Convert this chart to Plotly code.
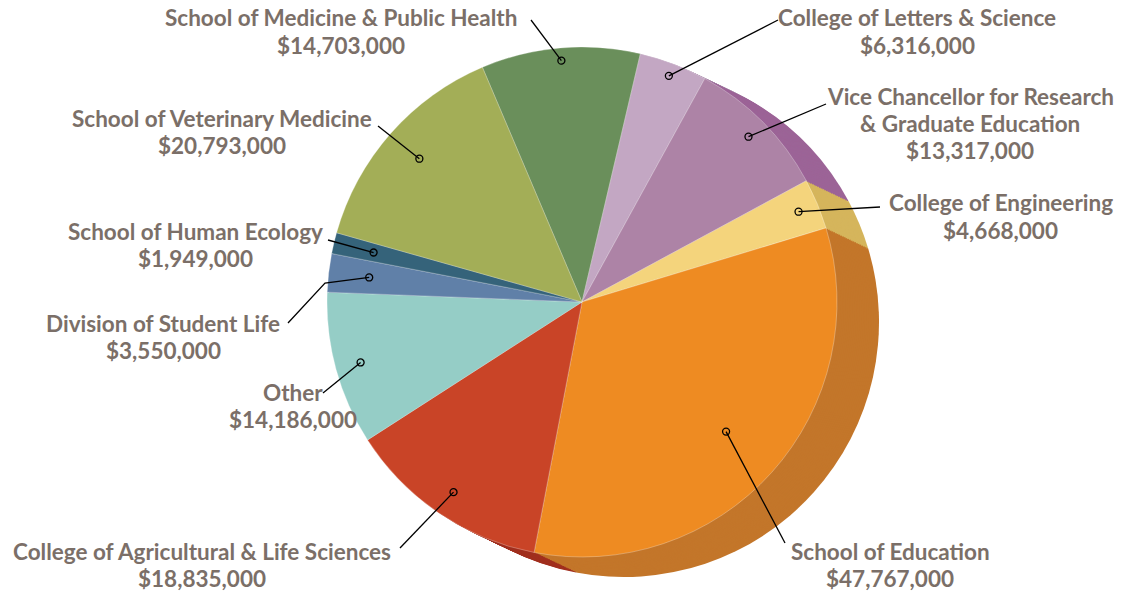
import math
import plotly.graph_objects as go

# ---------------- data ----------------
labels = [
    "School of Medicine & Public Health",
    "College of Letters & Science",
    "Vice Chancellor for Research & Graduate Education",
    "College of Engineering",
    "School of Education",
    "College of Agricultural & Life Sciences",
    "Other",
    "Division of Student Life",
    "School of Human Ecology",
    "School of Veterinary Medicine",
]
values = [14703000, 6316000, 13317000, 4668000, 47767000,
          18835000, 14186000, 3550000, 1949000, 20793000]
label_lines = [
    ["School of Medicine &amp; Public Health"],
    ["College of Letters &amp; Science"],
    ["Vice Chancellor for Research", "&amp; Graduate Education"],
    ["College of Engineering"],
    ["School of Education"],
    ["College of Agricultural &amp; Life Sciences"],
    ["Other"],
    ["Division of Student Life"],
    ["School of Human Ecology"],
    ["School of Veterinary Medicine"],
]

# ---------------- style ----------------
face_colors = ["#6a8f5b", "#c3a7c3", "#ad83a6", "#f4d47c", "#ee8b22",
               "#c94427", "#95cdc6", "#6080a8", "#35637a", "#a3ae57"]
side_colors = ["#577a49", "#a98aaa", "#9c6497", "#d5b55c", "#c3762a",
               "#a1301f", "#79b2aa", "#4d6a8e", "#28505f", "#8a9444"]
TEXT_COLOR = "#7b6f68"
FONT = "Lato"
FONT_SIZE = 22.5
LINE_GAP = 27

W, H = 1135, 591
CX, CY, R = 582, 302, 255          # face centre / radius in px
DX, DY = 42, 20                     # extrusion offset in px
NLAYERS = 24
ROTATION = -23

# first-line centre of each label block and leader-line start points (px)
text_pos = [(341, 18), (917, 18), (970, 96), (1001, 203), (890, 551),
            (202, 551), (293, 392), (163, 323), (195, 232), (222, 118)]
leader_start = [[(531, 20)], [(778, 20)], [(826, 104)], [(880, 207)], [(785, 543)],
                [(400, 548)], [(323, 393)], [(288, 323), (325, 283)], [(328, 240)],
                [(378, 126)]]
tip_frac = [0.95, 0.95, 0.92, 0.92, 0.76, 0.90, 0.90, 0.84, 0.84, 0.85]


def domain(cx, cy, r):
    return dict(x=[(cx - r) / W, (cx + r) / W],
                y=[1 - (cy + r) / H, 1 - (cy - r) / H])


def px(x):
    return x / W


def py(y):
    return 1 - y / H


fig = go.Figure()

# extrusion (side wall) layers, farthest first
for i in range(NLAYERS, 0, -1):
    t = i / NLAYERS
    fig.add_trace(go.Pie(
        labels=labels, values=values, sort=False, direction="clockwise",
        rotation=ROTATION, textinfo="none", textposition="none",
        hoverinfo="skip", showlegend=False,
        marker=dict(colors=side_colors, line=dict(width=0)),
        domain=domain(CX + DX * t, CY + DY * t, R),
    ))

# face
fig.add_trace(go.Pie(
    labels=labels, values=values, sort=False, direction="clockwise",
    rotation=ROTATION, textinfo="none", textposition="none",
    hovertemplate="%{label}<br>$%{value:,}<extra></extra>", showlegend=False,
    marker=dict(colors=face_colors, line=dict(width=0.8, color="rgba(255,255,255,0.35)")),
    domain=domain(CX, CY, R),
))

# leader lines + labels, tip positions derived from slice angles
total = sum(values)
cum = 0
shapes = []
annotations = []
for i, v in enumerate(values):
    mid = ROTATION + (cum + v / 2) / total * 360
    cum += v
    a = math.radians(mid)
    tx = CX + tip_frac[i] * R * math.sin(a)
    ty = CY - tip_frac[i] * R * math.cos(a)
    pts = leader_start[i] + [(tx, ty)]
    path = "M " + " L ".join(f"{px(x):.5f},{py(y):.5f}" for x, y in pts)
    shapes.append(dict(type="path", path=path, xref="paper", yref="paper",
                       line=dict(color="black", width=1.3), layer="above"))
    shapes.append(dict(type="circle", xref="paper", yref="paper",
                       xsizemode="pixel", ysizemode="pixel",
                       xanchor=px(tx), yanchor=py(ty),
                       x0=-3.5, x1=3.5, y0=-3.5, y1=3.5,
                       line=dict(color="black", width=1.3),
                       fillcolor="rgba(0,0,0,0)", layer="above"))
    lines = label_lines[i] + [f"${v:,}"]
    x0, y0 = text_pos[i]
    for k, line in enumerate(lines):
        annotations.append(dict(text=f"<b>{line}</b>", x=px(x0), y=py(y0 + k * LINE_GAP),
                                xref="paper", yref="paper", xanchor="center",
                                yanchor="middle", showarrow=False, align="center",
                                font=dict(family=FONT, size=FONT_SIZE, color=TEXT_COLOR)))

fig.update_layout(
    width=W, height=H,
    margin=dict(l=0, r=0, t=0, b=0),
    paper_bgcolor="white", plot_bgcolor="white",
    showlegend=False,
    shapes=shapes, annotations=annotations,
)

fig.write_html("out.html", config={"displayModeBar": False},
               post_script="document.body.style.margin='0px';")
